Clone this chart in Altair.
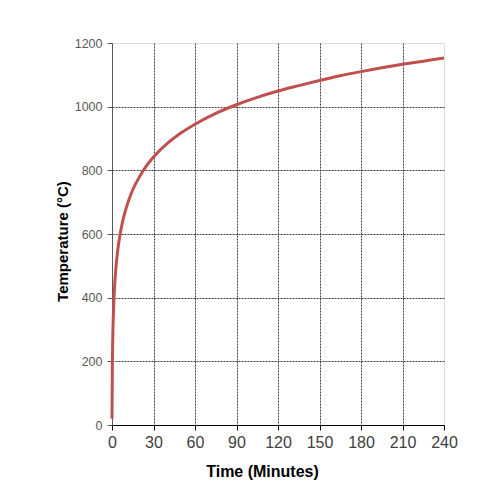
import altair as alt
import pandas as pd

minutes = [0, 0.25, 0.5, 1, 1.5, 2, 3, 4, 5, 7.5, 10, 12.5, 15, 20, 25, 30, 40, 45, 50, 60,
           75, 90, 105, 120, 135, 150, 165, 180, 195, 210, 225, 240]
temperature = [20, 185, 261, 349, 404, 445, 502, 544, 576, 636, 678, 711, 739, 781, 815, 842,
               885, 902, 918, 945, 979, 1006, 1029, 1049, 1066, 1082, 1097, 1110, 1122, 1133,
               1143, 1153]
x_ticks = [0, 30, 60, 90, 120, 150, 180, 210, 240]
y_ticks = [0, 200, 400, 600, 800, 1000, 1200]

df = pd.DataFrame({"t": minutes, "T": temperature})

FONT = "Liberation Sans"

chart = alt.Chart(df).mark_line(color="#C0504D", strokeWidth=3, interpolate="monotone").encode(
    x=alt.X("t:Q", scale=alt.Scale(domain=[0, 240], nice=False),
            axis=alt.Axis(values=x_ticks, format="d", title="Time (Minutes)", titleFont=FONT,
                          titleFontSize=16, titleFontWeight="bold", titleColor="#000000",
                          titleX=150, titleY=51, titleBaseline="alphabetic",
                          labelFont=FONT, labelFontSize=16, labelColor="#404040",
                          labelPadding=4, labelFlush=False,
                          domainColor="#000000", tickColor="#000000", tickSize=5,
                          gridColor="#404040", gridDash=[2, 1],
                          gridOpacity={"condition": {"test": "datum.value >= 240", "value": 0}, "value": 1})),
    y=alt.Y("T:Q", scale=alt.Scale(domain=[0, 1200], nice=False),
            axis=alt.Axis(values=y_ticks, format="d", title="Temperature (°C)", titleFont=FONT,
                          titleFontSize=15, titleFontWeight="bold", titleColor="#000000",
                          titleAngle=-90, titleX=-45, titleY=198, titleAlign="center",
                          titleBaseline="alphabetic",
                          labelFont=FONT, labelFontSize=12.5, labelColor="#595959",
                          labelPadding=5, labelFlush=False,
                          domainColor="#595959", tickColor="#595959", tickSize=5,
                          gridColor="#404040", gridDash=[2, 1],
                          gridOpacity={"condition": {"test": "datum.value >= 1200", "value": 0}, "value": 1})),
).properties(
    width=332, height=382,
    autosize=alt.AutoSizeParams(type="none"),
    padding={"left": 104, "top": 35, "right": 30, "bottom": 60},
).configure_view(stroke="#A6A6A6", strokeWidth=1).configure(background="white")

chart.save("out.html", embed_options={"renderer": "svg", "actions": False})
